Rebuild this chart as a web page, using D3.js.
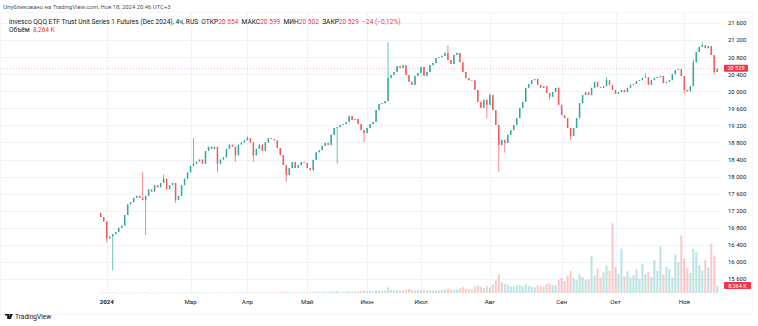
<!DOCTYPE html>
<html><head><meta charset="utf-8">
<script src="https://cdn.jsdelivr.net/npm/d3@7"></script>
<style>body{margin:0;background:#fff}svg{display:block}text{font-family:Roboto,"Noto Sans",sans-serif}</style>
</head><body><svg id="c" width="758" height="326"></svg>
<script>
// ---- data ----
const firstOpen = 17150;
const closes = [
17050,16950,16550,16600,16650,16700,16800,16850,17100,17350,
17400,17500,17550,17500,17450,17550,17700,17650,17800,17750,
17850,17950,17700,17800,17850,17450,17550,17800,17950,18100,
18250,18300,18350,18400,18300,18600,18700,18650,18700,18300,
18400,18450,18650,18750,18700,18500,18750,18800,18850,18900,
18800,18500,18650,18750,18600,18800,18900,18880,18850,18670,
18500,18270,18040,18200,18340,18200,18270,18340,18320,18200,
18150,18390,18570,18620,18720,18790,18740,18980,19140,19160,
19210,19230,19280,19420,19330,19350,19230,19090,19020,19140,
19230,19280,19560,19700,19720,19770,20310,20380,20450,20590,
20550,20610,20380,20220,20150,20360,20430,20570,20360,20450,
20610,20660,20780,20800,20830,20900,20730,20640,20850,20900,
20680,20450,20310,20260,20260,20030,19750,19610,19800,19680,
19910,19560,19210,18740,18860,18790,18980,19090,19210,19370,
19610,19750,20080,20170,20260,20290,20150,20080,20120,19960,
19870,19980,20080,19680,19440,19370,19140,18950,19140,19370,
19720,19910,19980,19910,20080,20220,20100,20080,20120,20260,
20150,20030,19940,19980,20030,19980,20080,20150,20170,20240,
20260,20310,20330,20150,20260,20310,20330,20360,20190,20220,
20260,20400,20500,20520,20360,20030,20000,20120,20680,20920,
21040,21080,21010,21060,20850,20450,20529];
const wickHighIdx = [14,21,31,49,96,116,130,169,182,198,201];
const wickHighVal = [18100,18050,18900,18950,21150,21080,19950,20330,20420,20750,21150];
const wickLowIdx = [2,4,15,25,39,45,51,62,79,88,129,133,135,150,157,195,205];
const wickLowVal = [16450,15800,16630,17380,18100,18350,18350,17880,18310,18810,19370,18110,18560,19800,18860,19950,20400];
const volumes = [
0.3,0.5,0.2,0.4,0.8,0.3,0.2,0.3,0.4,0.2,
0.3,0.2,0.4,0.3,0.5,0.9,0.3,0.2,0.4,0.3,
0.4,0.3,0.5,0.3,0.2,0.6,0.4,0.3,0.5,0.4,
0.6,0.8,0.4,0.5,0.3,0.6,0.5,0.4,0.6,0.7,
0.5,0.4,0.6,0.5,0.4,0.7,0.5,0.6,0.5,0.7,
0.6,0.8,0.5,0.6,0.7,0.5,0.8,0.6,0.7,0.9,
1.0,1.2,1.5,0.9,0.8,1.1,0.7,0.9,1.0,0.8,
1.2,1.0,1.3,0.9,1.1,1.4,1.0,1.6,1.8,2.2,
1.5,1.3,1.8,2.0,1.4,1.7,2.1,2.5,3.0,1.8,
2.2,2.0,3.1,2.6,2.4,2.8,6.5,3.5,2.9,3.2,
2.8,3.4,4.1,4.8,3.6,3.0,3.3,2.9,4.2,3.1,
3.5,2.8,3.2,3.0,3.6,4.0,5.2,3.8,3.4,3.9,
5.5,6.8,5.1,4.6,4.2,7.5,8.9,7.2,6.0,8.4,
6.5,9.8,14.5,22.0,12.5,10.8,9.6,8.1,7.4,8.8,
9.5,7.8,10.2,8.6,7.3,6.9,9.1,8.4,7.6,10.5,
12.0,9.3,8.7,15.5,18.2,14.0,20.5,25.8,17.4,15.0,
22.3,18.6,14.9,16.2,44.0,20.5,28.8,18.0,24.5,32.0,
26.0,82.0,30.5,22.4,52.0,19.8,25.6,18.4,21.0,27.5,
16.8,34.0,22.5,24.8,19.0,38.5,26.0,55.0,21.5,31.0,
28.0,18.5,45.0,36.0,68.0,40.5,29.0,24.0,52.0,48.0,
33.0,26.5,39.0,30.0,58.0,44.0,8.264];
const priceTicks = [15600,16000,16400,16800,17200,17600,18000,18400,18800,19200,19600,20000,20400,20800,21200,21600];
const monthLabels = ["2024","Мар","Апр","Май","Июн","Июл","Авг","Сен","Окт","Ноя"];
const monthStartIdx = [2,30,49,69,89,107,130,154,172,195];
const lastPrice = 20529, lastVolumeLabel = "8,264 K";

// ---- build ----
const n = closes.length;
const hiMap = new Map(wickHighIdx.map((d,k)=>[d,wickHighVal[k]]));
const loMap = new Map(wickLowIdx.map((d,k)=>[d,wickLowVal[k]]));
const candles = closes.map((c,i)=>{
  const o = i===0?firstOpen:closes[i-1];
  return {i,o,c,h:Math.max(o,c,hiMap.get(i)??-Infinity),l:Math.min(o,c,loMap.get(i)??Infinity),v:volumes[i]};
});
const UP="#26a69a", DN="#ef5350";
const svg = d3.select("#c");
const x = d3.scaleBand().domain(d3.range(n)).range([98.5,719.5]).padding(0.5);
const y = d3.scaleLinear().domain([15600,21600]).range([279,23]);
const yv = d3.scaleLinear().domain([0,100]).range([293,208]);
const cx = i => x(i)+x.bandwidth()/2;
const fmt = d3.formatLocale({decimal:",",thousands:" ",grouping:[3],currency:["",""]}).format(",");

// frame
svg.append("rect").attr("x",0.5).attr("y",12.5).attr("width",752).attr("height",302).attr("fill","none").attr("stroke","#eceef3").attr("stroke-width",0.5);

// grid
svg.append("g").selectAll("line").data(priceTicks).join("line")
  .attr("x1",1).attr("x2",721).attr("y1",d=>Math.round(y(d))+0.5).attr("y2",d=>Math.round(y(d))+0.5)
  .attr("stroke","#f0f3fa").attr("stroke-width",1);
svg.append("g").selectAll("line").data(monthStartIdx).join("line")
  .attr("x1",d=>Math.round(cx(d))+0.5).attr("x2",d=>Math.round(cx(d))+0.5).attr("y1",13).attr("y2",294)
  .attr("stroke","#f0f3fa").attr("stroke-width",1);

// volume
svg.append("g").selectAll("rect").data(candles).join("rect")
  .attr("x",d=>x(d.i)-0.3).attr("width",x.bandwidth()+0.6)
  .attr("y",d=>yv(d.v)).attr("height",d=>Math.max(0.6,yv(0)-yv(d.v)))
  .attr("fill",d=>d.c>=d.o?UP:DN).attr("opacity",0.3);

// last price line
svg.append("line").attr("x1",1).attr("x2",722).attr("y1",y(lastPrice)).attr("y2",y(lastPrice))
  .attr("stroke",DN).attr("stroke-width",0.7).attr("stroke-dasharray","1,2").attr("opacity",0.6);

// candles
const cg = svg.append("g");
cg.selectAll("line").data(candles).join("line")
  .attr("x1",d=>cx(d.i)).attr("x2",d=>cx(d.i)).attr("y1",d=>y(d.h)).attr("y2",d=>y(d.l))
  .attr("stroke",d=>d.c>=d.o?UP:DN).attr("stroke-width",0.7);
cg.selectAll("rect").data(candles).join("rect")
  .attr("x",d=>x(d.i)).attr("width",x.bandwidth())
  .attr("y",d=>y(Math.max(d.o,d.c))).attr("height",d=>Math.max(0.8,Math.abs(y(d.o)-y(d.c))))
  .attr("fill",d=>d.c>=d.o?UP:DN).attr("opacity",0.9);

// price axis
const ya = svg.append("g").attr("transform","translate(724,0)")
  .call(d3.axisRight(y).tickValues(priceTicks).tickSize(0).tickPadding(4).tickFormat(fmt));
ya.select(".domain").remove();
ya.selectAll("text").attr("font-size",6).attr("fill","#131722").attr("font-family","Roboto,sans-serif");

// time axis
const xa = svg.append("g").attr("transform","translate(0,296)")
  .call(d3.axisBottom(x).tickValues(monthStartIdx).tickSize(0).tickPadding(4).tickFormat((d,k)=>monthLabels[k]));
xa.select(".domain").remove();
xa.selectAll("text").attr("font-size",6.2).attr("fill","#131722").attr("font-family","Roboto,sans-serif")
  .attr("font-weight",(d,k)=>k===0?"bold":"normal");

// last price / volume labels
function tag(yc,txt,w){
  svg.append("rect").attr("x",724).attr("y",yc-4).attr("width",w).attr("height",7).attr("rx",1).attr("fill","#f23645");
  svg.append("text").attr("x",724+w/2).attr("y",yc+1.6).attr("text-anchor","middle").attr("font-size",5.6).attr("fill","#fff").text(txt);
}
tag(y(lastPrice),fmt(lastPrice),24);
tag(yv(volumes[n-1]),lastVolumeLabel,27);

// header
svg.append("text").attr("x",3).attr("y",8.5).attr("font-size",5.9).attr("fill","#50535e")
  .text("Опубликовано на TradingView.com, Ноя 18, 2024 20:46 UTC+3");
const h2 = svg.append("text").attr("x",9).attr("y",23.5).attr("font-size",6.6).attr("fill","#131722").attr("style","white-space:pre");
const parts = [["Invesco QQQ ETF Trust Unit Series 1 Futures (Dec 2024), 4ч, RUS  ",0],["ОТКР",0],["20 554",1],["  МАКС",0],["20 599",1],["  МИН",0],["20 502",1],["  ЗАКР",0],["20 529",1],["  −24 (−0,12%)",1]];
parts.forEach(p=>h2.append("tspan").attr("fill",p[1]?"#f23645":"#131722").text(p[0]));
const h3 = svg.append("text").attr("x",9).attr("y",32).attr("font-size",6.6).attr("style","white-space:pre");
h3.append("tspan").attr("fill","#131722").text("Объём  ");
h3.append("tspan").attr("fill","#f23645").text(lastVolumeLabel);

// footer logo
const lg = svg.append("g").attr("transform","translate(5,314)");
lg.append("path").attr("d","M0,0H4V5H2.2V1.6H0Z M4.6,0H7.8L5.8,5H3.8Z").attr("fill","#131722");
svg.append("text").attr("x",15).attr("y",319).attr("font-size",6.6).attr("fill","#131722").text("TradingView");
</script></body></html>
